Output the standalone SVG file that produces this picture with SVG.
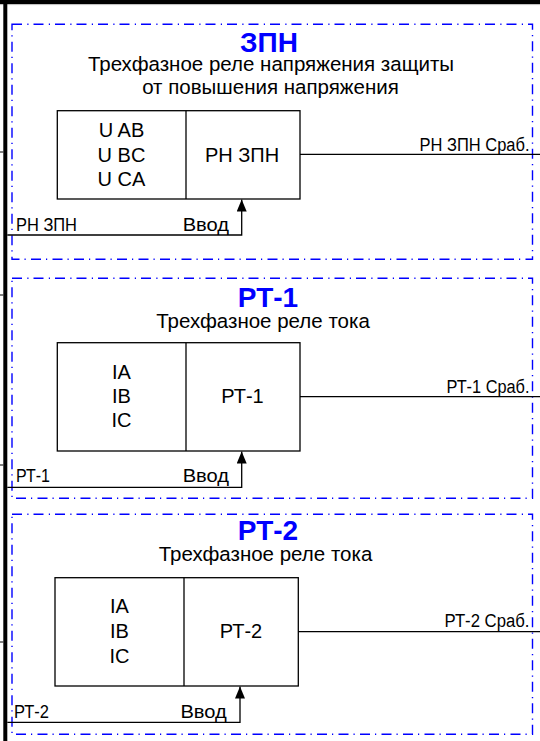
<svg xmlns="http://www.w3.org/2000/svg" width="540" height="741" viewBox="0 0 540 741">
<style>
.frame{fill:none;stroke:#0000ff;stroke-width:1.4;stroke-dasharray:10 5.3 1.2 5}
.box{fill:#fff;stroke:#000;stroke-width:1.3}
.wire{fill:none;stroke:#000;stroke-width:1.3}
.title{font-family:"Liberation Sans",Arial,sans-serif;font-weight:bold;font-size:28px;fill:#0000ff;text-anchor:middle}
.sub{font-family:"Liberation Sans",Arial,sans-serif;font-size:20.5px;fill:#000;text-anchor:middle}
.t{font-family:"Liberation Sans",Arial,sans-serif;font-size:20px;fill:#000;text-anchor:middle}
.lbl{font-family:"Liberation Sans",Arial,sans-serif;font-size:18px;fill:#000}
.out{font-family:"Liberation Sans",Arial,sans-serif;font-size:18px;fill:#000;text-anchor:end}
</style>
<defs>
<marker id="arr" markerWidth="12" markerHeight="10" refX="12" refY="5" orient="auto" markerUnits="userSpaceOnUse" viewBox="0 0 12 10">
<path d="M0,0 L12,5 L0,10 Z" fill="#000"/>
</marker>
</defs>
<rect x="0" y="0" width="540" height="741" fill="#fff"/>
<g id="border">
<rect x="0" y="0" width="540" height="4" fill="#000"/>
<line x1="0" y1="4.6" x2="540" y2="4.6" stroke="#bbb" stroke-width="1"/>
<rect x="3.3" y="0" width="4" height="741" fill="#000"/>
<line x1="0" y1="152" x2="3.3" y2="152" stroke="#000" stroke-width="1"/>
<line x1="0" y1="295" x2="3.3" y2="295" stroke="#000" stroke-width="1"/>
<line x1="0" y1="465" x2="3.3" y2="465" stroke="#000" stroke-width="1"/>
<line x1="0" y1="642" x2="3.3" y2="642" stroke="#000" stroke-width="1"/>
</g>

<g id="zpn">
<rect class="frame" x="12" y="24.3" width="520.5" height="235"/>
<text class="title" x="269" y="52">ЗПН</text>
<text class="sub" x="271" y="71">Трехфазное реле напряжения защиты</text>
<text class="sub" x="270.5" y="94">от повышения напряжения</text>
<rect class="box" x="57.3" y="110.7" width="242.7" height="88.3"/>
<line class="wire" x1="186" y1="110.7" x2="186" y2="199"/>
<text class="t" x="121.5" y="137">U AB</text>
<text class="t" x="121.5" y="161.5">U BC</text>
<text class="t" x="121.5" y="185.5">U CA</text>
<text class="t" x="242" y="161.5">РН ЗПН</text>
<text class="out" x="529.5" y="150.5" textLength="110" lengthAdjust="spacingAndGlyphs">РН ЗПН Сраб.</text>
<text class="lbl" x="16" y="231" textLength="61" lengthAdjust="spacingAndGlyphs">РН ЗПН</text>
<text class="lbl" x="182.7" y="231" textLength="46.3" lengthAdjust="spacingAndGlyphs">Ввод</text>
</g>

<g id="rt1">
<rect class="frame" x="12" y="278.3" width="520.5" height="220"/>
<text class="title" x="268" y="306.5">РТ-1</text>
<text class="sub" x="263" y="327.5">Трехфазное реле тока</text>
<rect class="box" x="57.3" y="342.7" width="242.7" height="108.3"/>
<line class="wire" x1="186" y1="342.7" x2="186" y2="451"/>
<text class="t" x="121.5" y="379.3">IA</text>
<text class="t" x="121.5" y="402.7">IB</text>
<text class="t" x="121.5" y="426.7">IC</text>
<text class="t" x="242.5" y="402.7">РТ-1</text>
<text class="out" x="529.5" y="392.7" textLength="83" lengthAdjust="spacingAndGlyphs">РТ-1 Сраб.</text>
<text class="lbl" x="16" y="481.7" textLength="34" lengthAdjust="spacingAndGlyphs">РТ-1</text>
<text class="lbl" x="182.7" y="481.7" textLength="46.3" lengthAdjust="spacingAndGlyphs">Ввод</text>
</g>

<g id="rt2">
<rect class="frame" x="12" y="514.3" width="520.5" height="220"/>
<text class="title" x="268" y="540">РТ-2</text>
<text class="sub" x="265.5" y="561">Трехфазное реле тока</text>
<rect class="box" x="55" y="577.7" width="243.3" height="108.3"/>
<line class="wire" x1="184" y1="577.7" x2="184" y2="686"/>
<text class="t" x="119.5" y="613.3">IA</text>
<text class="t" x="119.5" y="637.7">IB</text>
<text class="t" x="119.5" y="662.7">IC</text>
<text class="t" x="241" y="637.7">РТ-2</text>
<text class="out" x="529.5" y="627.3" textLength="85" lengthAdjust="spacingAndGlyphs">РТ-2 Сраб.</text>
<text class="lbl" x="14" y="717.7" textLength="35" lengthAdjust="spacingAndGlyphs">РТ-2</text>
<text class="lbl" x="180.4" y="717.7" textLength="46.3" lengthAdjust="spacingAndGlyphs">Ввод</text>
</g>

<g id="connectors">
<line class="wire" x1="300" y1="154.3" x2="540" y2="154.3"/>
<polyline class="wire" points="7.3,235 241.7,235 241.7,199.5" marker-end="url(#arr)"/>
<line class="wire" x1="300" y1="396.7" x2="540" y2="396.7"/>
<polyline class="wire" points="7.3,487.3 241.7,487.3 241.7,451.5" marker-end="url(#arr)"/>
<line class="wire" x1="298.3" y1="631.7" x2="540" y2="631.7"/>
<polyline class="wire" points="7.3,722.3 240,722.3 240,686.5" marker-end="url(#arr)"/>
</g>
</svg>
